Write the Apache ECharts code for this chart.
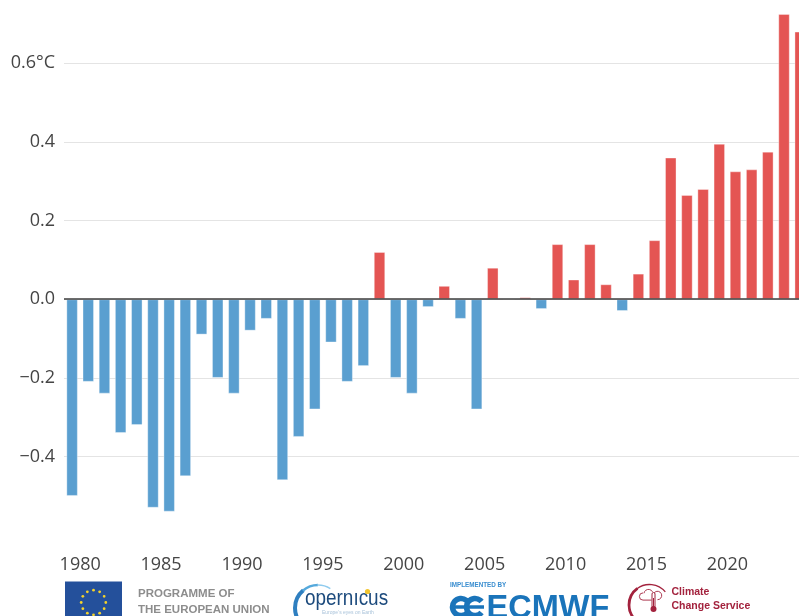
<!DOCTYPE html>
<html>
<head>
<meta charset="utf-8">
<title>Temperature anomaly 1979–2024</title>
<script src="https://cdn.jsdelivr.net/npm/echarts@6/dist/echarts.min.js"></script>
<style>
  html, body { margin: 0; padding: 0; background: #ffffff; }
  #chart { width: 799px; height: 616px; }
</style>
</head>
<body>
<div id="chart"></div>
<script>
// Annual temperature anomaly (°C), one bar per year
const years = [
  1979, 1980, 1981, 1982, 1983, 1984, 1985, 1986, 1987, 1988,
  1989, 1990, 1991, 1992, 1993, 1994, 1995, 1996, 1997, 1998,
  1999, 2000, 2001, 2002, 2003, 2004, 2005, 2006, 2007, 2008,
  2009, 2010, 2011, 2012, 2013, 2014, 2015, 2016, 2017, 2018,
  2019, 2020, 2021, 2022, 2023, 2024
];
const anomalies = [
  -0.50, -0.21, -0.24, -0.34, -0.32, -0.53, -0.54, -0.45, -0.09, -0.20,
  -0.24, -0.08, -0.05, -0.46, -0.35, -0.28, -0.11, -0.21, -0.17, 0.12,
  -0.20, -0.24, -0.02, 0.034, -0.05, -0.28, 0.08, 0.00, 0.005, -0.025,
  0.14, 0.05, 0.14, 0.038, -0.03, 0.065, 0.15, 0.36, 0.265, 0.28,
  0.395, 0.325, 0.33, 0.375, 0.725, 0.68
];
const yearLabels = [1980, 1985, 1990, 1995, 2000, 2005, 2010, 2015, 2020];
const yTickStep = 0.2;

const WARM = '#e45553';
const COOL = '#5a9fd0';
const AXIS_FONT = '"Open Sans", "DejaVu Sans", sans-serif';
const LOGO_FONT = '"Liberation Sans", Arial, sans-serif';
const CCS_RED = '#a3223d';

// each annual bar sits in the middle of its year on a continuous time scale
const barData = years.map((y, i) => [y + 0.5, anomalies[i]]);

function yLabel(v) {
  const r = Math.round(v * 10) / 10;
  if (Math.abs(r) < 1e-9) return '0.0';
  const s = Math.abs(r).toFixed(1);
  if (Math.abs(r - 0.6) < 1e-9) return s + '°C';
  return (r < 0 ? '\u2212' : '') + s;
}

function arc(cx, cy, r, a0, a1, stroke, width, z) {
  return {
    type: 'arc',
    shape: { cx, cy, r, startAngle: a0 * Math.PI, endAngle: a1 * Math.PI, clockwise: true },
    style: { stroke, lineWidth: width, fill: null },
    z: z || 10
  };
}

// EU flag stars
const stars = [];
for (let k = 0; k < 12; k++) {
  const a = k * Math.PI / 6;
  stars.push({
    type: 'circle',
    shape: { cx: 93.5 + 12.3 * Math.cos(a), cy: 602.5 + 12.3 * Math.sin(a), r: 1.4 },
    style: { fill: '#f3d22b' },
    z: 11
  });
}

const logos = [
  // EU flag
  { type: 'rect', shape: { x: 65, y: 581.5, width: 57, height: 40 }, style: { fill: '#24509b' }, z: 10 },
  ...stars,
  { type: 'text', x: 138, y: 594, style: { text: 'PROGRAMME OF', font: 'bold 11.5px ' + LOGO_FONT, fill: '#8d8d8d', verticalAlign: 'middle' }, z: 10 },
  { type: 'text', x: 138, y: 609.5, style: { text: 'THE EUROPEAN UNION', font: 'bold 11.5px ' + LOGO_FONT, fill: '#8d8d8d', verticalAlign: 'middle' }, z: 10 },

  // Copernicus
  arc(318, 608, 23, 0.5, 1.28, '#2f7fc0', 4),
  arc(318, 608, 23, 1.27, 1.5, '#55a9dc', 2.6),
  arc(318, 608, 23, 1.49, 1.68, '#8fcbee', 1.3),
  { type: 'text', x: 305, y: 598.5, scaleX: 0.86,
    style: { text: 'opern\u0131cus', font: '22px ' + LOGO_FONT, fill: '#1d4b7d', verticalAlign: 'middle' }, z: 10 },
  { type: 'circle', shape: { cx: 367.5, cy: 591.5, r: 2.6 }, style: { fill: '#f2c530' }, z: 11 },
  { type: 'text', x: 322, y: 612.5, style: { text: 'Europe\u2019s eyes on Earth', font: '5px ' + LOGO_FONT, fill: '#a9c3da', verticalAlign: 'middle' }, z: 10 },

  // ECMWF
  { type: 'text', x: 450, y: 585.3, style: { text: 'IMPLEMENTED BY', font: 'bold 6.3px ' + LOGO_FONT, fill: '#3a8ed0', verticalAlign: 'middle' }, z: 10 },
  arc(461, 607, 8.5, 0.22, 1.78, '#1a74ba', 5.5),
  arc(475, 607, 8.5, 0.22, 1.78, '#1a74ba', 5.5),
  { type: 'rect', shape: { x: 450, y: 605.3, width: 34, height: 3.4 }, style: { fill: '#1a74ba' }, z: 10 },
  { type: 'text', x: 486.5, y: 609, style: { text: 'ECMWF', font: 'bold 32.5px ' + LOGO_FONT, fill: '#1a74ba', verticalAlign: 'middle' }, z: 10 },

  // Climate Change Service
  arc(649.5, 605, 20.5, 0.5, 1.3, CCS_RED, 2.8),
  arc(649.5, 605, 20.5, 1.29, 1.78, CCS_RED, 1.3),
  // cloud outline
  arc(643, 596.5, 3.6, 0.5, 1.5, CCS_RED, 0.9),
  arc(648.5, 594, 4.6, 1.05, 1.85, CCS_RED, 0.9),
  arc(657.5, 595.5, 4.2, 1.2, 2.5, CCS_RED, 0.9),
  { type: 'line', shape: { x1: 643, y1: 600.1, x2: 651.5, y2: 600.1 }, style: { stroke: CCS_RED, lineWidth: 0.9 }, z: 10 },
  // thermometer
  { type: 'rect', shape: { x: 652, y: 592.5, width: 3, height: 15, r: 1.5 }, style: { fill: '#fff', stroke: CCS_RED, lineWidth: 1 }, z: 11 },
  { type: 'circle', shape: { cx: 653.5, cy: 609, r: 3 }, style: { fill: CCS_RED }, z: 12 },
  { type: 'rect', shape: { x: 653, y: 598, width: 1, height: 9 }, style: { fill: CCS_RED }, z: 12 },
  { type: 'text', x: 671.5, y: 592.5, style: { text: 'Climate', font: 'bold 10.5px ' + LOGO_FONT, fill: CCS_RED, verticalAlign: 'middle' }, z: 10 },
  { type: 'text', x: 671.5, y: 606, style: { text: 'Change Service', font: 'bold 10.5px ' + LOGO_FONT, fill: CCS_RED, verticalAlign: 'middle' }, z: 10 }
];

const chart = echarts.init(document.getElementById('chart'), null, { renderer: 'canvas' });
chart.setOption({
  animation: false,
  backgroundColor: '#ffffff',
  grid: {
    left: 64, right: -9.3, top: -15.6, bottom: 80.7,
    containLabel: false,
    outerBoundsMode: 'none'
  },
  xAxis: {
    type: 'value',
    min: 1979,
    max: 2025,
    axisLine: { show: false },
    axisTick: { show: false },
    splitLine: { show: false },
    axisLabel: {
      customValues: yearLabels,
      formatter: v => String(Math.round(v)),
      color: '#454545',
      fontFamily: AXIS_FONT,
      fontSize: 18,
      margin: 21
    }
  },
  yAxis: {
    type: 'value',
    min: -0.6,
    max: 0.8,
    interval: yTickStep,
    axisLine: { show: false },
    axisTick: { show: false },
    splitLine: { show: true, showMinLine: false, showMaxLine: false, lineStyle: { color: '#e4e4e4', width: 1.2 } },
    axisLabel: {
      showMinLabel: false,
      showMaxLabel: false,
      formatter: yLabel,
      color: '#454545',
      fontFamily: AXIS_FONT,
      fontSize: 18,
      margin: 9
    }
  },
  series: [{
    type: 'bar',
    data: barData,
    barWidth: 11.5,
    itemStyle: {
      color: p => (p.value[1] >= 0 ? WARM : COOL),
      borderColor: 'rgba(255,255,255,0.35)',
      borderWidth: 1
    },
    markLine: {
      silent: true,
      symbol: 'none',
      label: { show: false },
      lineStyle: { color: '#3c3c3c', width: 1.6, type: 'solid' },
      data: [{ yAxis: 0 }],
      z: 5
    }
  }],
  graphic: { elements: logos }
});
</script>
</body>
</html>
